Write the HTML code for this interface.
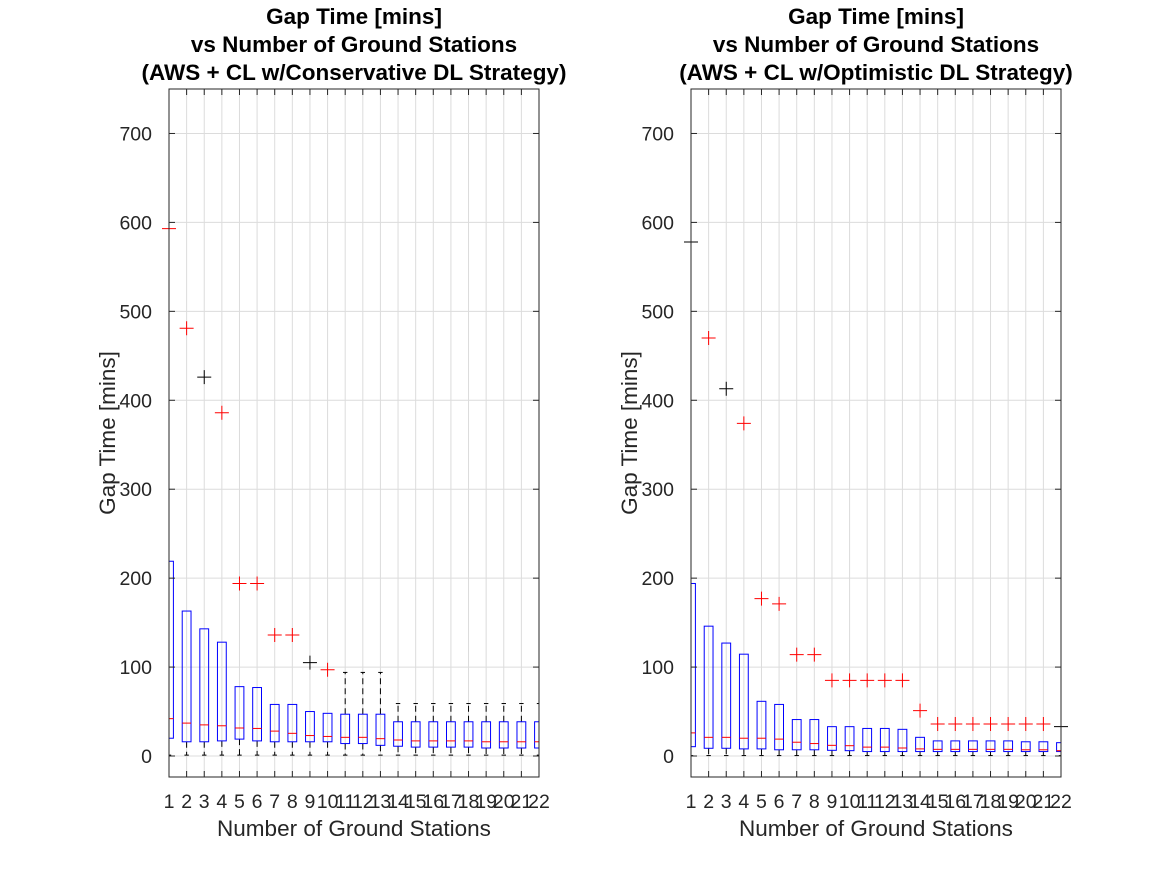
<!DOCTYPE html>
<html><head><meta charset="utf-8"><style>
body{margin:0;background:#fff;}
svg{display:block;font-family:"Liberation Sans",Arial,sans-serif;}
</style></head><body>
<svg id="fig" width="1167" height="875"></svg>
<script>
const categories=[1,2,3,4,5,6,7,8,9,10,11,12,13,14,15,16,17,18,19,20,21,22];
const yTicks=[0,100,200,300,400,500,600,700];
// left: conservative
const consQ1=[20,16,16,17,19,17,16,16,16,16,14,14,12,11,10,10,10,10,9,9,9,9];
const consMed=[42,37,35,34,31.5,31,28,25.5,23,22,21,21,19.5,18,17,17,17,17,16,16,16,16];
const consQ3=[219,163,143,128,78,77,58,58,50,48,47,47,47,38.5,38.5,38.5,38.5,38.5,38.5,38.5,38.5,38.5];
const consLo=[1,1,1,1,1,1,1,1,1,1,1,1,1,1,1,1,1,1,1,1,1,1];
const consHi=[219,163,143,128,78,77,58,58,50,48,94,94,94,59,59,59,59,59,59,59,59,59];
const consOut=[593,481,426,386,194,194,136,136,105,97,null,null,null,null,null,null,null,null,null,null,null,null];
const consOutBlack=[0,0,1,0,0,0,0,0,1,0,0,0,0,0,0,0,0,0,0,0,0,0];
// right: optimistic
const optQ1=[10.5,8.7,8.7,8,8,7,7,7,6.4,6,5,5,5,5,5,5,5,5,5,5,5,5];
const optMed=[26,21,21,20,20,19,15.5,14,12,11.6,10,10,9,8,7.5,7.5,7.5,7.5,7.5,7,7,6];
const optQ3=[194,146,127,114.5,61.5,58,41,41,33,33,31,31,30,21,17,17,17,17,17,16,16,15];
const optLo=[0.5,0.5,0.5,0.5,0.5,0.5,0.5,0.5,0.5,0.5,0.5,0.5,0.5,0.5,0.5,0.5,0.5,0.5,0.5,0.5,0.5,0.5];
const optHi=[194,146,127,114.5,61.5,58,41,41,33,33,31,31,30,21,17,17,17,17,17,16,16,15];
const optOut=[578,470,413,374,177,171,114,114,85,85,85,85,85,51,36,36,36,36,36,36,36,33];
const optOutBlack=[1,0,1,0,0,0,0,0,0,0,0,0,0,0,0,0,0,0,0,0,0,1];

const NS="http://www.w3.org/2000/svg";
const svg=document.getElementById('fig');
function mk(tag,attrs,parent){const e=document.createElementNS(NS,tag);for(const k in attrs)e.setAttribute(k,attrs[k]);(parent||svg).appendChild(e);return e;}

function panel(x0,x1,titles,q1,med,q3,lo,hi,out,outBlack,name){
  const y0=89,y1=777,yMin=-23.6,yMax=750;
  const g=mk('g',{});
  
  
  const X=v=>x0+(v-1)/(21)*(x1-x0);
  const Y=v=>y1-(v-yMin)/(yMax-yMin)*(y1-y0);
  const clip=mk('clipPath',{id:'c'+name},g);
  mk('rect',{x:x0,y:y0,width:x1-x0,height:y1-y0},clip);
  categories.forEach(c=>{const l=mk('line',{x1:X(c),x2:X(c),y1:y0,y2:y1,stroke:'#dcdcdc','stroke-width':1},g);
    });
  yTicks.forEach(t=>{const l=mk('line',{x1:x0,x2:x1,y1:Y(t),y2:Y(t),stroke:'#dcdcdc','stroke-width':1},g);
    });
  const d=mk('g',{'clip-path':'url(#c'+name+')'},g);
  const hw=0.25*(x1-x0)/21;
  categories.forEach((c,i)=>{
    const cx=X(c);
    const bg=mk('g',{},d);
    
    
    if(hi[i]>q3[i]) mk('line',{x1:cx,x2:cx,y1:Y(q3[i]),y2:Y(hi[i]),stroke:'#000','stroke-dasharray':'6,4'},bg);
    if(hi[i]>q3[i]) mk('line',{x1:cx-hw/2,x2:cx+hw/2,y1:Y(hi[i]),y2:Y(hi[i]),stroke:'#000'},bg);
    mk('line',{x1:cx,x2:cx,y1:Y(q1[i]),y2:Y(lo[i]),stroke:'#000','stroke-dasharray':'6,4'},bg);
    mk('line',{x1:cx-hw/2,x2:cx+hw/2,y1:Y(lo[i]),y2:Y(lo[i]),stroke:'#000'},bg);
    mk('rect',{x:cx-hw,y:Y(q3[i]),width:2*hw,height:Y(q1[i])-Y(q3[i]),fill:'none',stroke:'#0000ff','stroke-width':1},bg);
    mk('line',{x1:cx-hw,x2:cx+hw,y1:Y(med[i]),y2:Y(med[i]),stroke:'#ff0000','stroke-width':1},bg);
  });
  categories.forEach((c,i)=>{
    if(out[i]!==null){
      const cx=X(c);
      const col=outBlack[i]?'#000':'#ff0000';const oy=Y(out[i]);
      const o=mk('path',{d:`M${cx-7},${oy}H${cx+7}M${cx},${oy-7}V${oy+7}`,stroke:col,'stroke-width':1},g);
      
    }
  });
  const ax=mk('rect',{x:x0,y:y0,width:x1-x0,height:y1-y0,fill:'none',stroke:'#262626','stroke-width':1},g);
  
  categories.forEach(c=>{
    mk('line',{x1:X(c),x2:X(c),y1:y1,y2:y1-6,stroke:'#262626'},g);
    mk('line',{x1:X(c),x2:X(c),y1:y0,y2:y0+6,stroke:'#262626'},g);
    const t=mk('text',{x:X(c),y:y1+31,'text-anchor':'middle','font-size':19.5,fill:'#262626'},g);
    t.textContent=c;
  });
  yTicks.forEach(v=>{
    mk('line',{x1:x0,x2:x0+6,y1:Y(v),y2:Y(v),stroke:'#262626'},g);
    mk('line',{x1:x1,x2:x1-6,y1:Y(v),y2:Y(v),stroke:'#262626'},g);
    const t=mk('text',{x:x0-17,y:Y(v)+7,'text-anchor':'end','font-size':19.5,fill:'#262626'},g);
    t.textContent=v;
  });
  const xl=mk('text',{x:(x0+x1)/2,y:836,'text-anchor':'middle','font-size':22.5,fill:'#262626'},g);
  xl.textContent='Number of Ground Stations';
  const yl=mk('text',{x:0,y:0,'text-anchor':'middle','font-size':22.5,fill:'#262626',transform:`translate(${x0-54},${(y0+y1)/2}) rotate(-90)`},g);
  yl.textContent='Gap Time [mins]';
  titles.forEach((s,k)=>{const t=mk('text',{x:(x0+x1)/2,y:24+k*28,'text-anchor':'middle','font-size':22.5,'font-weight':'bold',fill:'#000'},g);
    t.textContent=s;});
}
panel(169,539,['Gap Time [mins]','vs Number of Ground Stations','(AWS + CL w/Conservative DL Strategy)'],consQ1,consMed,consQ3,consLo,consHi,consOut,consOutBlack,'conservative-panel');
panel(691,1061,['Gap Time [mins]','vs Number of Ground Stations','(AWS + CL w/Optimistic DL Strategy)'],optQ1,optMed,optQ3,optLo,optHi,optOut,optOutBlack,'optimistic-panel');
</script>
</body></html>
